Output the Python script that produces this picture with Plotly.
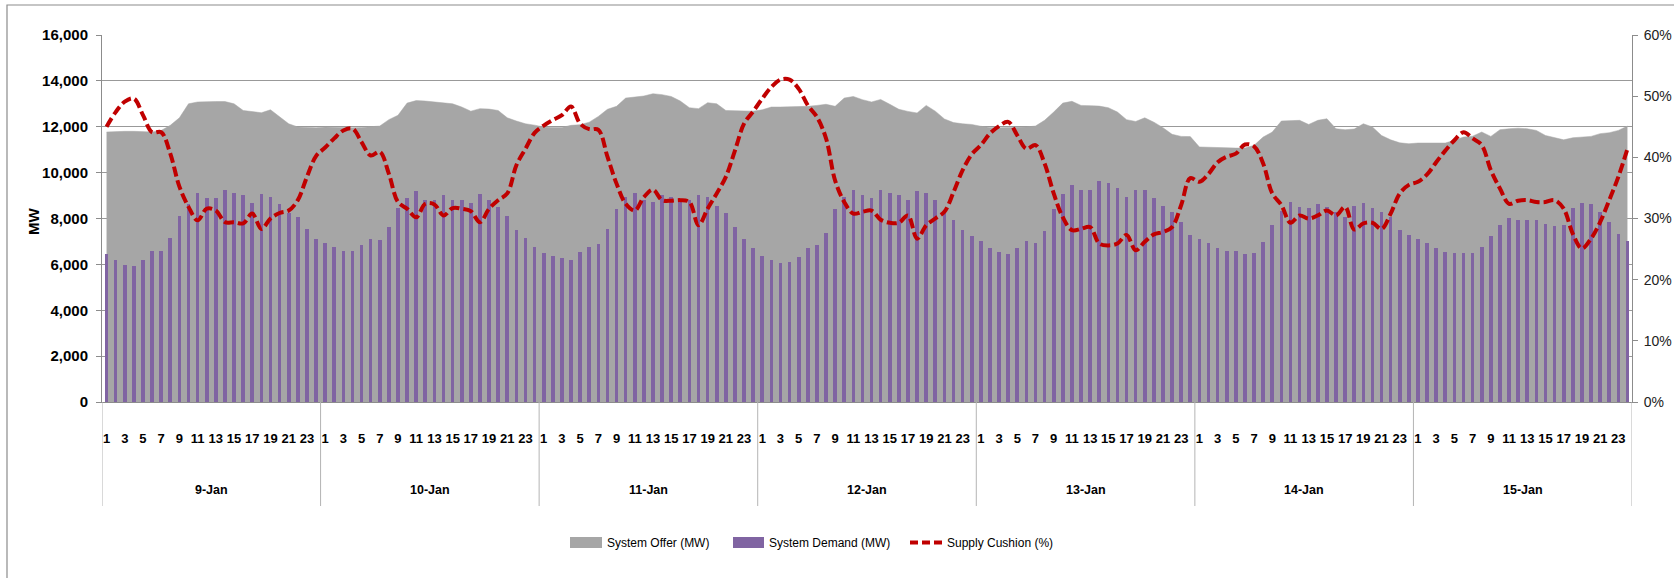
import plotly.graph_objects as go

# ---------------- data ----------------
days = ["9-Jan", "10-Jan", "11-Jan", "12-Jan", "13-Jan", "14-Jan", "15-Jan"]
hours = list(range(1, 25))
hour_tick_labels = [str(h) for h in range(1, 24, 2)]

offer_mw = [
    # 9-Jan
    11770, 11800, 11800, 11800, 11770, 11770, 11840, 12060, 12390, 13000, 13080, 13100,
    13100, 13100, 13000, 12710, 12670, 12610, 12740, 12450, 12130, 11990, 11960, 11960,
    # 10-Jan
    11990, 11970, 11960, 11960, 11970, 11990, 12030, 12310, 12500, 13030, 13140, 13120,
    13080, 13060, 13000, 12860, 12680, 12790, 12770, 12710, 12390, 12250, 12130, 12070,
    # 11-Jan
    11990, 11970, 11970, 12060, 12090, 12200, 12450, 12760, 12890, 13250, 13290, 13340,
    13440, 13400, 13320, 13120, 12830, 12790, 13050, 13000, 12710, 12700, 12700, 12680,
    # 12-Jan
    12740, 12860, 12860, 12860, 12860, 12890, 12930, 12980, 12890, 13250, 13320, 13180,
    13080, 13190, 12980, 12760, 12670, 12600, 12930, 12680, 12340, 12180, 12130, 12100,
    # 13-Jan
    12020, 11970, 11960, 11960, 11970, 11990, 12030, 12280, 12640, 13030, 13110, 12930,
    12920, 12900, 12830, 12640, 12310, 12230, 12390, 12200, 11960, 11670, 11580, 11570,
    # 14-Jan
    11120, 11100, 11090, 11090, 11070, 11070, 11190, 11550, 11770, 12250, 12280, 12280,
    12100, 12280, 12350, 11910, 11870, 11900, 12130, 11990, 11620, 11430, 11300, 11260,
    # 15-Jan
    11290, 11290, 11290, 11290, 11410, 11550, 11590, 11770, 11580, 11870, 11910, 11940,
    11910, 11840, 11620, 11520, 11430, 11520, 11550, 11580, 11700, 11740, 11840, 12030,
]

demand_mw = [
    # 9-Jan
    6440, 6200, 5990, 5930, 6200, 6600, 6600, 7160, 8120, 8650, 9130, 8910,
    8910, 9230, 9130, 9010, 8670, 9070, 8950, 8620, 8240, 8050, 7560, 7110,
    # 10-Jan
    6950, 6770, 6600, 6600, 6830, 7100, 7050, 7610, 8440, 8910, 9180, 8820,
    8820, 9010, 8820, 8820, 8670, 9070, 8790, 8500, 8120, 7500, 7160, 6770,
    # 11-Jan
    6500, 6380, 6260, 6200, 6550, 6770, 6890, 7560, 8400, 8940, 9130, 8790,
    8730, 9010, 8950, 8850, 8790, 9010, 8950, 8560, 8220, 7610, 7100, 6710,
    # 12-Jan
    6380, 6200, 6040, 6100, 6320, 6710, 6830, 7380, 8400, 8950, 9230, 9010,
    8890, 9230, 9130, 9010, 8790, 9180, 9130, 8790, 8340, 7950, 7500, 7220,
    # 13-Jan
    7000, 6710, 6550, 6440, 6710, 7000, 6950, 7440, 8400, 9070, 9460, 9230,
    9230, 9620, 9560, 9340, 8950, 9230, 9230, 8890, 8560, 8280, 7830, 7280,
    # 14-Jan
    7100, 6950, 6710, 6600, 6600, 6440, 6500, 6990, 7730, 8340, 8730, 8500,
    8440, 8620, 8500, 8280, 8060, 8560, 8670, 8440, 8280, 8060, 7500, 7280,
    # 15-Jan
    7100, 6950, 6710, 6550, 6500, 6500, 6500, 6770, 7220, 7730, 8010, 7950,
    7950, 7950, 7770, 7670, 7730, 8440, 8670, 8620, 8280, 7830, 7340, 7000,
]

cushion_pct = [
    # 9-Jan
    45.0, 47.4, 49.1, 49.6, 46.9, 44.1, 44.1, 40.6, 35.2, 31.9, 29.7, 31.6,
    31.3, 29.4, 29.4, 29.2, 30.8, 28.3, 30.0, 30.9, 31.3, 33.0, 36.8, 40.2,
    # 10-Jan
    41.6, 43.1, 44.4, 44.7, 42.5, 40.3, 40.9, 37.3, 32.7, 31.6, 30.2, 32.4,
    32.3, 30.5, 31.7, 31.6, 31.2, 29.4, 31.6, 33.0, 34.1, 38.7, 41.4, 44.0,
    # 11-Jan
    45.2, 46.1, 46.9, 48.3, 45.5, 44.6, 44.5, 40.1, 35.7, 32.4, 31.3, 33.5,
    34.7, 33.0, 32.9, 33.0, 32.7, 28.9, 31.6, 34.1, 36.8, 41.1, 45.5, 47.5,
    # 12-Jan
    49.6, 51.5, 52.7, 52.7, 51.2, 48.5, 46.6, 43.1, 36.2, 32.7, 30.8, 31.1,
    31.3, 29.8, 29.3, 29.3, 30.5, 26.7, 28.9, 30.0, 31.1, 34.3, 37.9, 40.5,
    # 13-Jan
    42.0, 43.9, 45.1, 45.8, 43.6, 41.4, 42.0, 39.0, 34.1, 30.2, 28.1, 28.3,
    28.6, 25.9, 25.6, 25.9, 27.3, 24.8, 26.2, 27.4, 27.8, 28.6, 32.2, 36.6,
    # 14-Jan
    36.0, 37.3, 39.2, 40.1, 40.6, 42.1, 41.8, 39.0, 34.1, 32.2, 29.3, 30.5,
    30.0, 30.5, 31.3, 30.5, 31.9, 28.2, 29.2, 29.3, 28.3, 30.8, 34.1, 35.5,
    # 15-Jan
    36.0, 37.2, 39.2, 41.1, 42.8, 44.1, 43.1, 42.0, 37.9, 34.9, 32.4, 32.9,
    33.0, 32.7, 32.7, 33.0, 31.6, 27.5, 25.1, 26.7, 29.4, 33.0, 36.8, 41.4,
]

series_names = ["System Offer (MW)", "System Demand (MW)", "Supply Cushion (%)"]

# ---------------- styles ----------------
W, H = 1674, 578
ML, MR, MT, MB = 102, 42, 35, 176
PW, PH = W - ML - MR, H - MT - MB
FONT = "Liberation Sans, Arial, sans-serif"
C_OFFER = "#A6A6A6"
C_DEMAND = "#8064A2"
C_CUSHION = "#C00000"
C_AXIS = "#8C8C8C"
C_SEP = "#B4B4B4"


def px_x(px):
    return (px - ML) / PW


def px_y(py):
    return (H - MB - py) / PH


n_hours = len(hours)
xs = list(range(len(offer_mw)))
tickvals = [d * n_hours + (int(t) - 1) for d in range(len(days)) for t in hour_tick_labels]
ticktext = [t for _ in days for t in hour_tick_labels]

fig = go.Figure()
fig.add_trace(go.Scatter(
    x=xs, y=offer_mw, name=series_names[0], mode="lines",
    line=dict(color=C_OFFER, width=0.5), fill="tozeroy", fillcolor=C_OFFER,
    xaxis="x", yaxis="y", showlegend=False, hoverinfo="skip",
))
fig.add_trace(go.Bar(
    x=xs, y=demand_mw, name=series_names[1], marker=dict(color=C_DEMAND, line=dict(width=0)),
    width=0.4, xaxis="x", yaxis="y2", showlegend=False,
))
fig.add_trace(go.Scatter(
    x=xs, y=cushion_pct, name=series_names[2], mode="lines",
    line=dict(color=C_CUSHION, width=4, dash="10px,4px", shape="spline", smoothing=1.0),
    xaxis="x", yaxis="y3", showlegend=False,
))

shapes = []
# category separators (multi-level axis)
for d in range(len(days) + 1):
    shapes.append(dict(type="line", xref="x", yref="paper",
                       x0=d * n_hours - 0.5, x1=d * n_hours - 0.5,
                       y0=0, y1=px_y(506), line=dict(color=C_SEP, width=1)))
# outer chart border
shapes.append(dict(type="rect", xref="paper", yref="paper",
                   x0=px_x(7), x1=px_x(1700), y0=px_y(5), y1=px_y(620),
                   line=dict(color=C_AXIS, width=1.2), fillcolor="rgba(0,0,0,0)"))
# legend symbols
shapes.append(dict(type="rect", xref="paper", yref="paper",
                   x0=px_x(570), x1=px_x(602), y0=px_y(537), y1=px_y(548),
                   line=dict(width=0), fillcolor=C_OFFER))
shapes.append(dict(type="rect", xref="paper", yref="paper",
                   x0=px_x(733), x1=px_x(764), y0=px_y(537), y1=px_y(548),
                   line=dict(width=0), fillcolor=C_DEMAND))
shapes.append(dict(type="line", xref="paper", yref="paper",
                   x0=px_x(910), x1=px_x(943), y0=px_y(542.5), y1=px_y(542.5),
                   line=dict(color=C_CUSHION, width=4, dash="8px,4px")))

annotations = []
for d, day in enumerate(days):
    annotations.append(dict(text=day, x=d * n_hours + (n_hours - 1) / 2, xref="x",
                            y=px_y(490), yref="paper", showarrow=False,
                            xanchor="center", yanchor="middle",
                            font=dict(family=FONT, size=12.5, color="black", weight="bold")))
annotations.append(dict(text="MW", x=px_x(33), xref="paper", y=px_y(222), yref="paper",
                        showarrow=False, textangle=-90, xanchor="center", yanchor="middle",
                        font=dict(family=FONT, size=15, color="black", weight="bold")))
for name, lx in zip(series_names, [605, 767, 945]):
    annotations.append(dict(text=name, x=px_x(lx), xref="paper", y=px_y(542.5), yref="paper",
                            showarrow=False, xanchor="left", yanchor="middle",
                            font=dict(family=FONT, size=12, color="black")))

fig.update_layout(
    width=W, height=H, autosize=False,
    margin=dict(l=ML, r=MR, t=MT, b=MB, autoexpand=False),
    paper_bgcolor="white", plot_bgcolor="white",
    showlegend=False, bargap=0,
    xaxis=dict(range=[-0.5, len(xs) - 0.5], tickmode="array", tickvals=tickvals, ticktext=ticktext,
               ticks="", showgrid=False, zeroline=False, showline=True, linecolor=C_AXIS,
               linewidth=1, ticklabelstandoff=24, tickangle=0, automargin=False,
               tickfont=dict(family=FONT, size=13, color="black", weight="bold")),
    yaxis=dict(range=[0, 16000], dtick=2000, tickformat=",", showgrid=True, gridcolor="#999999",
               gridwidth=1, zeroline=False, showline=True, linecolor=C_AXIS, ticks="outside",
               ticklen=5, tickcolor=C_AXIS, ticklabelstandoff=5, automargin=False,
               tickfont=dict(family=FONT, size=15, color="black", weight="bold")),
    yaxis2=dict(range=[0, 16000], overlaying="y", visible=False, automargin=False),
    yaxis3=dict(range=[0, 60], dtick=10, ticksuffix="%", overlaying="y", side="right",
                showgrid=False, zeroline=False, showline=True, linecolor=C_AXIS, ticks="outside",
                ticklen=5, tickcolor=C_AXIS, ticklabelstandoff=3, automargin=False,
                tickfont=dict(family=FONT, size=14, color="#222222")),
    shapes=shapes, annotations=annotations,
)

fig.write_html("out.html", config={"displayModeBar": False},
               post_script="document.body.style.margin='0';document.body.style.overflow='hidden';")
